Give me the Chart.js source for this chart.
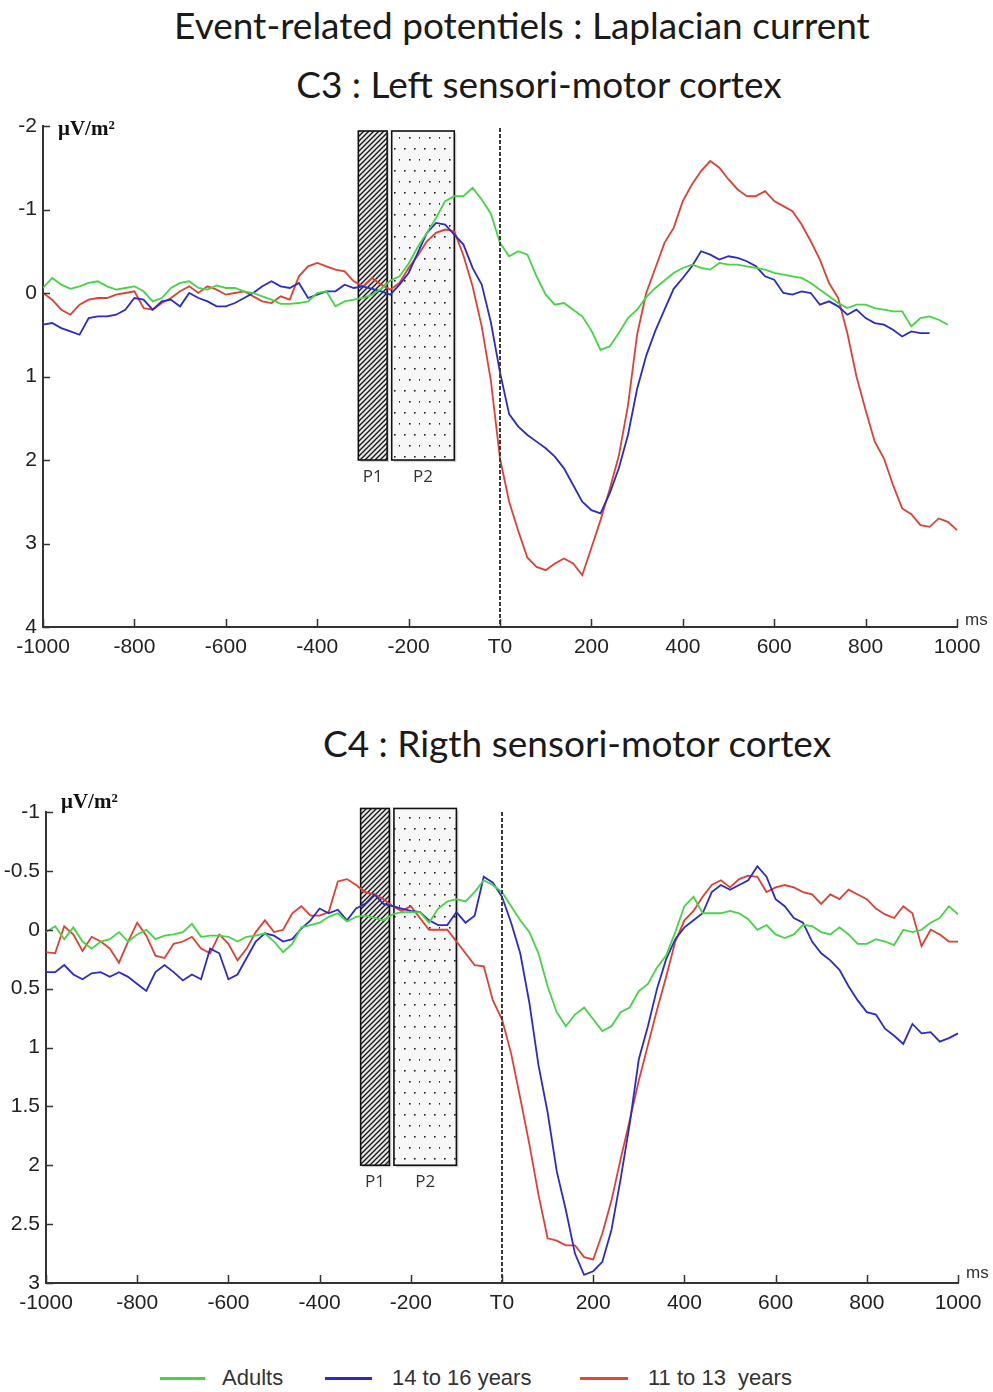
<!DOCTYPE html>
<html lang="en">
<head>
    <meta charset="UTF-8">
    <title>Event-related potentiels : Laplacian current</title>
    <script src="https://cdn.jsdelivr.net/npm/chart.js"></script>
    <style>
        body {
            margin: 0;
            width: 993px;
            height: 1392px;
            background-color: #fff;
            position: relative;
            overflow: hidden;
            font-family: "Liberation Sans", Arial, sans-serif;
        }

        .title {
            position: absolute;
            transform: translateX(-50%);
            white-space: nowrap;
            font-family: Lato, "Open Sans", sans-serif;
            font-size: 37px;
            color: #1a1a1a;
            line-height: 1;
        }

        canvas {
            position: absolute;
            left: 0;
        }

        .legend {
            position: absolute;
            top: 1365px;
            font-size: 22px;
            color: #333;
            white-space: nowrap;
        }

        .legend span.swatch {
            position: absolute;
            top: 12px;
            height: 2.5px;
        }
    </style>
</head>
<body>
    <div class="title" style="left:522px; top:6px;">Event-related potentiels : Laplacian current</div>
    <div class="title" style="left:539px; top:65px;">C3 : Left sensori-motor cortex</div>
    <div class="title" style="left:577px; top:724px;">C4 : Rigth sensori-motor cortex</div>

    <canvas id="c3Chart" width="993" height="570" style="top:100px;"></canvas>
    <canvas id="c4Chart" width="993" height="540" style="top:780px;"></canvas>

    <div class="legend" style="left:0;">
        <span class="swatch" style="left:160px; width:45px; background:#44d444;"></span>
        <span style="position:absolute; left:222px;">Adults</span>
        <span class="swatch" style="left:325px; width:47px; background:#2b2bc8;"></span>
        <span style="position:absolute; left:392px;">14 to 16 years</span>
        <span class="swatch" style="left:580px; width:48px; background:#de4a36;"></span>
        <span style="position:absolute; left:648px;">11 to 13&nbsp; years</span>
    </div>

    <script>
        // time base (ms), one sample every 20 ms
        const timesMs = [
            -1000, -980, -960, -940, -920, -900, -880, -860, -840, -820,
            -800, -780, -760, -740, -720, -700, -680, -660, -640, -620,
            -600, -580, -560, -540, -520, -500, -480, -460, -440, -420,
            -400, -380, -360, -340, -320, -300, -280, -260, -240, -220,
            -200, -180, -160, -140, -120, -100, -80, -60, -40, -20,
            0, 20, 40, 60, 80, 100, 120, 140, 160, 180,
            200, 220, 240, 260, 280, 300, 320, 340, 360, 380,
            400, 420, 440, 460, 480, 500, 520, 540, 560, 580,
            600, 620, 640, 660, 680, 700, 720, 740, 760, 780,
            800, 820, 840, 860, 880, 900, 920, 940, 960, 980,
            1000
        ];

        const seriesNames = ['Adults', '14 to 16 years', '11 to 13  years'];

        // C3 : left sensori-motor cortex (µV/m²)
        const c3Adults = [
            -0.06, -0.18, -0.1, -0.05, -0.08, -0.12, -0.14, -0.08, -0.04, -0.06,
            -0.08, -0.02, 0.1, 0.06, -0.06, -0.12, -0.14, -0.06, -0.04, -0.09,
            -0.06, -0.06, -0.02, 0.0, 0.04, 0.08, 0.13, 0.13, 0.12, 0.1,
            0.0, -0.02, 0.16, 0.1, 0.08, 0.06, 0.02, -0.05, -0.15, -0.2,
            -0.35, -0.55, -0.72, -0.9, -1.1, -1.16, -1.16, -1.26, -1.12, -0.95,
            -0.6, -0.44, -0.5, -0.46, -0.2, 0.02, 0.14, 0.12, 0.2, 0.28,
            0.45, 0.68, 0.64, 0.48, 0.3, 0.2, 0.05, -0.06, -0.15, -0.24,
            -0.3, -0.34, -0.3, -0.28, -0.36, -0.34, -0.34, -0.32, -0.3, -0.28,
            -0.24, -0.22, -0.2, -0.18, -0.12, -0.04, 0.04, 0.12, 0.18, 0.14,
            0.14, 0.18, 0.2, 0.22, 0.22, 0.4, 0.3, 0.28, 0.32, 0.38,
            null
        ];
        const c3Teens = [
            0.38, 0.36, 0.42, 0.46, 0.5, 0.3, 0.28, 0.28, 0.26, 0.2,
            0.06, 0.08, 0.2, 0.1, 0.08, 0.16, 0.0, 0.06, 0.1, 0.16,
            0.16, 0.12, 0.06, 0.0, -0.08, -0.14, -0.08, -0.06, -0.12, 0.06,
            0.02, -0.02, -0.02, -0.1, -0.06, -0.08, -0.05, -0.02, 0.02, -0.1,
            -0.24, -0.48, -0.72, -0.84, -0.82, -0.7, -0.58, -0.3, -0.1, 0.35,
            0.95, 1.45, 1.6, 1.7, 1.78, 1.86, 1.96, 2.1, 2.3, 2.5,
            2.6, 2.64, 2.4, 2.1, 1.7, 1.15, 0.75, 0.45, 0.2, -0.05,
            -0.18, -0.32, -0.5, -0.46, -0.4, -0.44, -0.42, -0.38, -0.32, -0.2,
            -0.16, 0.0, 0.02, -0.02, 0.0, 0.14, 0.1, 0.16, 0.26, 0.2,
            0.3, 0.36, 0.38, 0.44, 0.52, 0.46, 0.48, 0.48, null, null,
            null
        ];
        const c3Kids = [
            0.0, 0.08, 0.2, 0.26, 0.14, 0.08, 0.06, 0.06, 0.02, 0.0,
            -0.02, 0.18, 0.2, 0.12, 0.06, -0.02, -0.08, 0.0, -0.08, -0.04,
            0.02, 0.0, -0.02, 0.04, 0.1, 0.12, 0.04, 0.08, -0.2, -0.32,
            -0.36, -0.32, -0.28, -0.26, -0.14, -0.08, -0.18, -0.1, -0.04, -0.12,
            -0.3, -0.45, -0.62, -0.72, -0.76, -0.74, -0.45, -0.08, 0.4, 1.05,
            1.98, 2.5, 2.85, 3.17, 3.28, 3.32, 3.24, 3.18, 3.24, 3.38,
            3.05, 2.72, 2.35, 1.95, 1.35, 0.5, 0.0, -0.3, -0.6, -0.78,
            -1.1, -1.3, -1.46, -1.58, -1.5, -1.36, -1.24, -1.16, -1.16, -1.22,
            -1.1, -1.04, -0.98, -0.82, -0.62, -0.4, -0.12, 0.06, 0.48, 1.0,
            1.4, 1.78, 1.98, 2.3, 2.58, 2.65, 2.78, 2.8, 2.7, 2.74,
            2.84
        ];

        // C4 : right sensori-motor cortex (µV/m²)
        const c4Adults = [
            0.02, -0.03, 0.08, -0.02, 0.1, 0.16, 0.1, 0.08, 0.02, 0.1,
            0.04, 0.0, 0.08, 0.05, 0.04, 0.02, -0.05, 0.06, 0.05, 0.05,
            0.06, 0.1, 0.06, 0.05, 0.03, 0.1, 0.19, 0.12, -0.02, -0.04,
            -0.06, -0.11, -0.14, -0.07, -0.11, -0.12, -0.1, -0.08, -0.13, -0.15,
            -0.15, -0.15, -0.06, -0.18, -0.24, -0.26, -0.24, -0.32, -0.42, -0.38,
            -0.32, -0.2, -0.08, 0.02, 0.2, 0.48, 0.7, 0.82, 0.72, 0.66,
            0.76, 0.86, 0.82, 0.7, 0.66, 0.52, 0.46, 0.32, 0.22, 0.02,
            -0.2, -0.28, -0.14, -0.14, -0.14, -0.16, -0.14, -0.09, 0.0, -0.04,
            0.04, 0.07, 0.04, -0.04, -0.03, 0.02, 0.04, -0.02, 0.04, 0.12,
            0.12, 0.08, 0.1, 0.13, 0.0, 0.02, 0.0, -0.06, -0.1, -0.2,
            -0.13
        ];
        const c4Teens = [
            0.36, 0.36, 0.3, 0.38, 0.42, 0.37, 0.36, 0.4, 0.36, 0.4,
            0.46, 0.52, 0.36, 0.3, 0.36, 0.43, 0.38, 0.42, 0.16, 0.2,
            0.42, 0.38, 0.24, 0.1, 0.03, 0.05, 0.1, 0.08, -0.01, -0.08,
            -0.18, -0.14, -0.17, -0.08, -0.18, -0.22, -0.3, -0.22, -0.2, -0.18,
            -0.16, -0.15, -0.08, -0.04, -0.04, -0.15, -0.06, -0.12, -0.45, -0.4,
            -0.28, -0.06, 0.2, 0.62, 1.15, 1.55, 2.05, 2.38, 2.75, 2.93,
            2.9, 2.82, 2.55, 2.12, 1.65, 1.1, 0.82, 0.5, 0.25, 0.08,
            -0.02, -0.08, -0.14, -0.32, -0.38, -0.34, -0.38, -0.42, -0.54, -0.45,
            -0.26, -0.2, -0.1, -0.06, 0.1, 0.2, 0.26, 0.34, 0.48, 0.6,
            0.7, 0.72, 0.84, 0.9, 0.97, 0.8, 0.88, 0.87, 0.95, 0.92,
            0.88
        ];
        const c4Kids = [
            0.19, 0.2, -0.03, 0.04, 0.18, 0.06, 0.1, 0.16, 0.28, 0.1,
            -0.06, 0.05, 0.22, 0.24, 0.12, 0.1, 0.06, 0.16, 0.2, 0.04,
            0.12, 0.26, 0.16, 0.02, -0.08, 0.02, 0.0, -0.14, -0.2, -0.12,
            -0.12, -0.15, -0.41, -0.43, -0.38, -0.32, -0.3, -0.26, -0.2, -0.16,
            -0.2, -0.1, 0.0, 0.0, 0.0, 0.1, 0.2, 0.3, 0.31, 0.6,
            0.76, 1.05, 1.43, 1.82, 2.25, 2.62, 2.64, 2.68, 2.68, 2.78,
            2.8, 2.58, 2.3, 1.95, 1.62, 1.28, 0.98, 0.68, 0.4, 0.1,
            -0.08, -0.16, -0.28, -0.38, -0.42, -0.36, -0.43, -0.46, -0.45, -0.32,
            -0.36, -0.38, -0.36, -0.32, -0.3, -0.22, -0.3, -0.26, -0.34, -0.3,
            -0.26, -0.18, -0.13, -0.1, -0.2, -0.14, 0.14, 0.0, 0.04, 0.1,
            0.1
        ];

        const xTicks = [-1000, -800, -600, -400, -200, 0, 200, 400, 600, 800, 1000];
        const c3YTicks = [-2, -1, 0, 1, 2, 3, 4];
        const c4YTicks = [-1, -0.5, 0, 0.5, 1, 1.5, 2, 2.5, 3];

        // analysis windows P1 / P2 (ms)
        const windowP1 = [-310, -247];
        const windowP2 = [-237, -100];

        const colors = ['#44d444', '#2b2bc8', '#de4032'];

        function toPoints(values) {
            return timesMs.map((t, i) => ({ x: t, y: values[i] }));
        }

        function makePatterns(ctx) {
            const h = document.createElement('canvas');
            h.width = 5; h.height = 5;
            const hg = h.getContext('2d');
            hg.fillStyle = '#e6e6e6';
            hg.fillRect(0, 0, 5, 5);
            hg.strokeStyle = '#151515';
            hg.lineWidth = 1.3;
            hg.beginPath();
            hg.moveTo(-1, 6); hg.lineTo(6, -1);
            hg.moveTo(-1, 1); hg.lineTo(1, -1);
            hg.moveTo(4, 6); hg.lineTo(6, 4);
            hg.stroke();

            const d = document.createElement('canvas');
            d.width = 20; d.height = 22;
            const dg = d.getContext('2d');
            dg.fillStyle = '#f7f7f7';
            dg.fillRect(0, 0, 20, 22);
            dg.fillStyle = '#222';
            [[4, 4], [14, 4], [9, 15], [19, 15]].forEach(p => {
                dg.fillRect(p[0], p[1], 1.6, 1.6);
            });
            return { hatch: ctx.createPattern(h, 'repeat'), dots: ctx.createPattern(d, 'repeat') };
        }

        const erpDecor = {
            id: 'erpDecor',
            beforeDatasetsDraw(chart, args, opts) {
                const { ctx, scales: { x, y } } = chart;
                const pats = makePatterns(ctx);
                const top = y.getPixelForValue(opts.boxTop);
                const bottom = y.getPixelForValue(opts.boxBottom);
                [[windowP1, pats.hatch, 'P1'], [windowP2, pats.dots, 'P2']].forEach(([w, pat, label]) => {
                    const l = x.getPixelForValue(w[0]);
                    const r = x.getPixelForValue(w[1]);
                    ctx.save();
                    ctx.fillStyle = 'rgba(0,0,0,0.18)';
                    ctx.fillRect(l + 2, top + 2, r - l, bottom - top);
                    ctx.fillStyle = pat;
                    ctx.fillRect(l, top, r - l, bottom - top);
                    ctx.strokeStyle = '#111';
                    ctx.lineWidth = 1.6;
                    ctx.strokeRect(l, top, r - l, bottom - top);
                    ctx.fillStyle = '#333';
                    ctx.font = '17px "Open Sans", sans-serif';
                    ctx.textAlign = 'center';
                    ctx.textBaseline = 'middle';
                    ctx.fillText(label, (l + r) / 2, bottom + 17);
                    ctx.restore();
                });
            },
            afterDatasetsDraw(chart, args, opts) {
                const { ctx, chartArea, scales: { x, y } } = chart;
                ctx.save();
                // stimulus onset
                const x0 = x.getPixelForValue(0);
                ctx.strokeStyle = '#3a3a3a';
                ctx.lineWidth = 2;
                ctx.setLineDash([4, 2]);
                ctx.beginPath();
                ctx.moveTo(x0, chartArea.top + opts.dashTop);
                ctx.lineTo(x0, chartArea.bottom);
                ctx.stroke();
                ctx.setLineDash([]);

                // inward tick marks
                ctx.strokeStyle = '#333';
                ctx.lineWidth = 1.5;
                ctx.beginPath();
                y.ticks.forEach(t => {
                    const py = Math.round(y.getPixelForValue(t.value)) + 0.5;
                    ctx.moveTo(chartArea.left, py);
                    ctx.lineTo(chartArea.left + 7, py);
                });
                x.ticks.forEach(t => {
                    const px = Math.round(x.getPixelForValue(t.value)) + 0.5;
                    ctx.moveTo(px, chartArea.bottom);
                    ctx.lineTo(px, chartArea.bottom - 8);
                });
                ctx.stroke();

                // unit and time labels
                ctx.fillStyle = '#111';
                ctx.font = 'bold 21px "Liberation Serif", serif';
                ctx.textAlign = 'left';
                ctx.textBaseline = 'alphabetic';
                ctx.fillText('\u03bcV/m\u00b2', chartArea.left + 15, chartArea.top + opts.unitOffset);
                ctx.fillStyle = '#333';
                ctx.font = '17px "Liberation Sans", Arial, sans-serif';
                ctx.textBaseline = 'middle';
                ctx.fillText('ms', chartArea.right + 8, chartArea.bottom - opts.msOffset);
                ctx.restore();
            }
        };

        function buildChart(id, series, yTicks, yMin, yMax, frame, decor) {
            const datasets = series.map((vals, i) => ({
                label: seriesNames[i],
                data: toPoints(vals),
                borderColor: colors[i],
                borderWidth: 1.8,
                pointRadius: 0,
                tension: 0,
                spanGaps: false
            }));
            return new Chart(document.getElementById(id).getContext('2d'), {
                type: 'line',
                data: { datasets },
                options: {
                    responsive: false,
                    animation: false,
                    parsing: false,
                    layout: { padding: { top: frame.top, right: frame.right, left: 0, bottom: 0 } },
                    plugins: {
                        legend: { display: false },
                        tooltip: { enabled: false },
                        erpDecor: decor
                    },
                    scales: {
                        x: {
                            type: 'linear',
                            min: -1000,
                            max: 1000,
                            afterBuildTicks: s => { s.ticks = xTicks.map(v => ({ value: v })); },
                            afterFit: s => { s.height = frame.xHeight; },
                            grid: { display: false, drawTicks: false },
                            border: { display: true, color: '#333', width: 2 },
                            ticks: {
                                padding: 8,
                                color: '#222',
                                font: { size: 21, family: '"Liberation Sans", Arial, sans-serif' },
                                maxRotation: 0,
                                autoSkip: false,
                                callback: v => v === 0 ? 'T0' : String(v)
                            }
                        },
                        y: {
                            type: 'linear',
                            reverse: true,
                            min: yMin,
                            max: yMax,
                            afterBuildTicks: s => { s.ticks = yTicks.map(v => ({ value: v })); },
                            afterFit: s => { s.width = frame.yWidth; },
                            grid: { display: false, drawTicks: false },
                            border: { display: true, color: '#333', width: 2 },
                            ticks: {
                                padding: 6,
                                color: '#222',
                                font: { size: 21, family: '"Liberation Sans", Arial, sans-serif' },
                                autoSkip: false,
                                callback: v => String(v)
                            }
                        }
                    }
                },
                plugins: [erpDecor]
            });
        }

        buildChart('c3Chart', [c3Adults, c3Teens, c3Kids], c3YTicks, -2, 4,
            { top: 26, right: 36, xHeight: 43, yWidth: 43 },
            { boxTop: -1.94, boxBottom: 2, dashTop: 2, unitOffset: 9, msOffset: 7 });

        buildChart('c4Chart', [c4Adults, c4Teens, c4Kids], c4YTicks, -1, 3,
            { top: 32, right: 35, xHeight: 37, yWidth: 46 },
            { boxTop: -1.03, boxBottom: 2, dashTop: 0, unitOffset: -4, msOffset: 10 });
    </script>
</body>
</html>
